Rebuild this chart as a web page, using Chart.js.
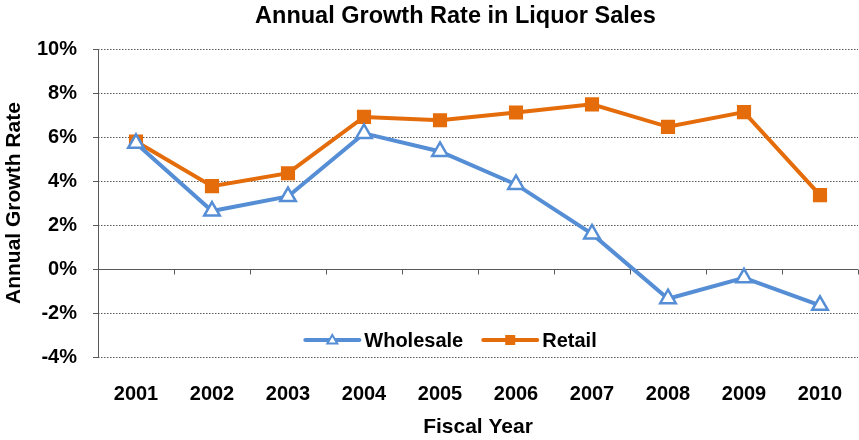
<!DOCTYPE html>
<html>
<head>
<meta charset="utf-8">
<title>Annual Growth Rate in Liquor Sales</title>
<script src="https://cdn.jsdelivr.net/npm/chart.js@4.4.1/dist/chart.umd.min.js"></script>
<style>
  html, body { margin: 0; padding: 0; background: #fff; }
  #wrap { width: 859px; height: 440px; }
</style>
</head>
<body>
<div id="wrap"><canvas id="lineChart"></canvas></div>
<script>
// data
const years = ['2001', '2002', '2003', '2004', '2005', '2006', '2007', '2008', '2009', '2010'];
const wholesale = [5.72, 2.64, 3.3, 6.17, 5.35, 3.85, 1.6, -1.35, -0.4, -1.65];
const retail = [5.8, 3.77, 4.36, 6.92, 6.77, 7.12, 7.49, 6.47, 7.14, 3.36];
const yTicks = [-4, -2, 0, 2, 4, 6, 8, 10];

const blue = '#558ED5';
const orange = '#E46C0A';
const axisGrey = '#595959';
const FONT = 'Arial, "Liberation Sans", sans-serif';

// axis lines, tick marks and the in-plot legend
const excelAxes = {
    id: 'excelAxes',
    afterLayout(chart) {
        // shift the title a bit to the right like in the original
        if (chart.titleBlock) chart.titleBlock.left = 53;
    },
    beforeDatasetsDraw(chart) {
        const ctx = chart.ctx;
        const x = chart.scales.x;
        const y = chart.scales.y;
        const area = chart.chartArea;
        ctx.save();
        ctx.strokeStyle = axisGrey;
        ctx.lineWidth = 1;
        ctx.beginPath();
        // vertical axis
        ctx.moveTo(area.left + 0.5, area.top);
        ctx.lineTo(area.left + 0.5, area.bottom);
        yTicks.forEach(v => {
            const py = Math.round(y.getPixelForValue(v)) + 0.5;
            ctx.moveTo(area.left - 5, py);
            ctx.lineTo(area.left + 0.5, py);
        });
        // zero line with category tick marks
        const y0 = Math.round(y.getPixelForValue(0)) + 0.5;
        ctx.moveTo(area.left, y0);
        ctx.lineTo(area.right, y0);
        for (let i = 0; i <= years.length; i++) {
            const px = Math.round(x.getPixelForValue(i - 0.5)) + 0.5;
            ctx.moveTo(px, y0);
            ctx.lineTo(px, y0 + 5);
        }
        ctx.stroke();
        ctx.restore();
    },
    afterDraw(chart) {
        const ctx = chart.ctx;
        const area = chart.chartArea;
        const ly = area.bottom - 17;
        ctx.save();
        ctx.font = 'bold 20px ' + FONT;
        ctx.textBaseline = 'middle';
        ctx.fillStyle = '#000';
        const lineLen = 54, gap = 5, between = 20;
        const items = chart.data.datasets;
        let total = 0;
        items.forEach((ds, i) => {
            total += lineLen + gap + ctx.measureText(ds.label).width;
            if (i < items.length - 1) total += between;
        });
        let lx = 451 - total / 2;
        items.forEach(ds => {
            ctx.strokeStyle = ds.borderColor;
            ctx.lineWidth = 4;
            ctx.lineCap = 'round';
            ctx.beginPath();
            ctx.moveTo(lx, ly);
            ctx.lineTo(lx + lineLen, ly);
            ctx.stroke();
            const cx = lx + lineLen / 2;
            if (ds.pointStyle === 'triangle') {
                ctx.fillStyle = '#fff';
                ctx.lineWidth = 2;
                ctx.beginPath();
                ctx.moveTo(cx, ly - 5);
                ctx.lineTo(cx + 5, ly + 3.5);
                ctx.lineTo(cx - 5, ly + 3.5);
                ctx.closePath();
                ctx.fill();
                ctx.stroke();
            } else {
                ctx.fillStyle = ds.backgroundColor;
                ctx.fillRect(cx - 5, ly - 5, 10, 10);
            }
            ctx.fillStyle = '#000';
            ctx.fillText(ds.label, lx + lineLen + gap, ly + 1);
            lx += lineLen + gap + ctx.measureText(ds.label).width + between;
        });
        ctx.restore();
    }
};

const ctx = document.getElementById('lineChart').getContext('2d');
const lineChart = new Chart(ctx, {
    type: 'line',
    data: {
        labels: years,
        datasets: [{
            label: 'Wholesale',
            data: wholesale,
            borderColor: blue,
            backgroundColor: '#fff',
            borderWidth: 4,
            pointStyle: 'triangle',
            pointRadius: 9,
            pointBorderWidth: 2.5,
            pointBackgroundColor: '#fff',
            pointBorderColor: blue,
            tension: 0
        }, {
            label: 'Retail',
            data: retail,
            borderColor: orange,
            backgroundColor: orange,
            borderWidth: 4,
            pointStyle: 'rect',
            pointRadius: 10,
            pointBorderWidth: 0,
            pointBackgroundColor: orange,
            tension: 0
        }]
    },
    options: {
        responsive: true,
        maintainAspectRatio: false,
        animation: false,
        events: [],
        layout: {
            autoPadding: false,
            padding: { left: 0, right: 1, top: 0, bottom: 0 }
        },
        plugins: {
            legend: { display: false },
            tooltip: { enabled: false },
            title: {
                display: true,
                text: 'Annual Growth Rate in Liquor Sales',
                color: '#000',
                font: { family: FONT, size: 23.5, weight: 'bold' },
                padding: { top: 2, bottom: 19 }
            }
        },
        scales: {
            x: {
                offset: true,
                // grid hidden; tickLength only pushes the labels down
                grid: { display: false, tickLength: 25 },
                border: { display: false },
                ticks: {
                    color: '#000',
                    padding: 0,
                    maxRotation: 0,
                    font: { family: FONT, size: 20, weight: 'bold' }
                },
                title: {
                    display: true,
                    text: 'Fiscal Year',
                    color: '#000',
                    font: { family: FONT, size: 21, weight: 'bold' },
                    padding: { top: 0, bottom: 0 }
                },
                afterFit: s => { s.height = 83; }
            },
            y: {
                min: -4,
                max: 10,
                grid: {
                    color: axisGrey,
                    lineWidth: 1,
                    drawTicks: false
                },
                border: { display: false, dash: [1.5, 1.5] },
                ticks: {
                    stepSize: 2,
                    color: '#000',
                    padding: 21,
                    font: { family: FONT, size: 20, weight: 'bold' },
                    callback: v => v + '%'
                },
                title: {
                    display: true,
                    text: 'Annual Growth Rate',
                    color: '#000',
                    font: { family: FONT, size: 21, weight: 'bold' },
                    padding: { top: 2, bottom: 0 }
                },
                afterFit: s => { s.width = 98; }
            }
        }
    },
    plugins: [excelAxes]
});
</script>
</body>
</html>
